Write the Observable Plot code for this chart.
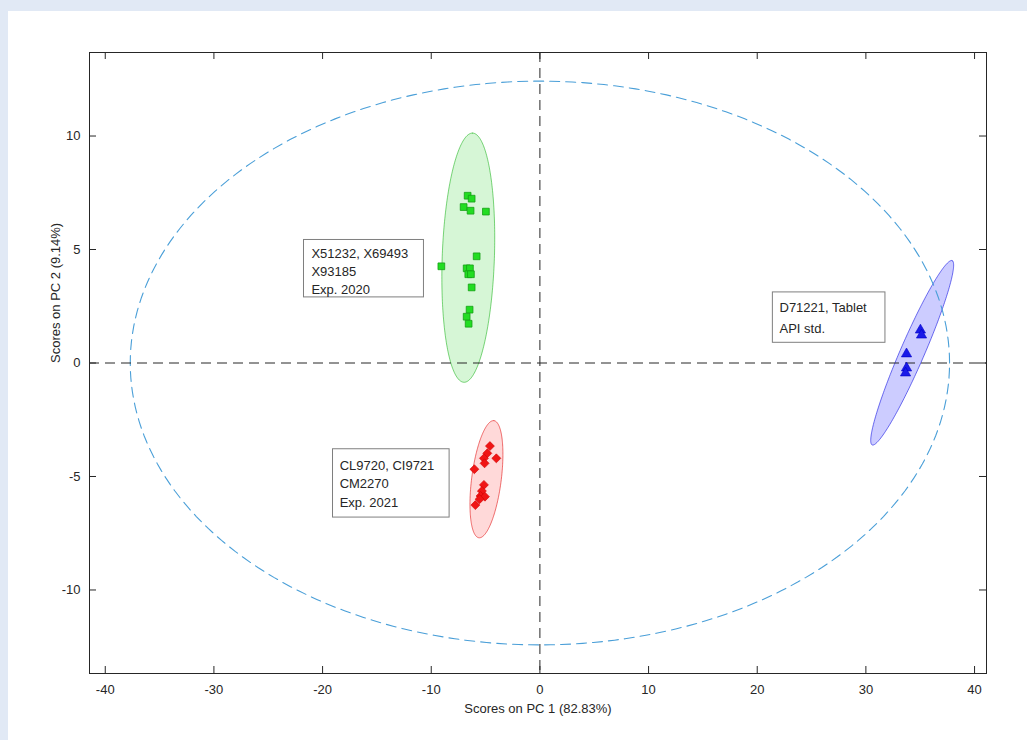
<!DOCTYPE html>
<html><head><meta charset="utf-8">
<script src="https://cdn.jsdelivr.net/npm/d3@7"></script>
<script src="https://cdn.jsdelivr.net/npm/@observablehq/plot@0.6"></script>
<style>
html,body{margin:0;padding:0;background:#e1e9f5;overflow:hidden;}
#panel{position:absolute;left:8px;top:11px;width:1019px;height:729px;background:#fff;}
#panel svg{display:block;}
</style></head><body><div id="panel"></div>
<script>
// ---- axis ticks
const xTicks = [-40, -30, -20, -10, 0, 10, 20, 30, 40];
const yTicks = [-10, -5, 0, 5, 10];
const xLabel = "Scores on PC 1 (82.83%)";
const yLabel = "Scores on PC 2 (9.14%)";

// ---- scores: group X51232, X69493, X93185 (Exp. 2020)
const greenPC1 = [-6.65, -6.28, -7.02, -6.38, -4.97, -5.82, -9.07, -6.74, -6.44, -6.59, -6.35, -6.28, -6.47, -6.74, -6.56];
const greenPC2 = [7.37, 7.24, 6.87, 6.71, 6.67, 4.70, 4.26, 4.17, 4.17, 3.91, 3.91, 3.33, 2.35, 2.04, 1.73];
// ---- group CL9720, CI9721, CM2270 (Exp. 2021)
const redPC1 = [-4.60, -4.84, -5.15, -5.09, -4.01, -6.03, -5.15, -5.34, -5.46, -5.06, -5.55, -5.94];
const redPC2 = [-3.66, -3.98, -4.20, -4.42, -4.20, -4.68, -5.37, -5.64, -5.86, -5.89, -6.00, -6.26];
// ---- group D71221, Tablet, API std.
const bluePC1 = [35.02, 35.12, 33.74, 33.74, 33.65];
const bluePC2 = [1.45, 1.23, 0.40, -0.22, -0.44];

// ---- confidence ellipses: center, major half-axis vector, minor half-axis vector (data units)
const ellGroup  = ["all", "green", "red", "blue"];
const ellCx     = [0.00, -6.59, -4.92, 34.26];
const ellCy     = [0.00,  4.64, -5.12,  0.45];
const ellMajorX = [37.7,  0.40,  0.69,  3.68];
const ellMajorY = [0.00,  5.49,  2.58,  4.06];
const ellMinorX = [0.00,  2.40,  1.35,  1.01];
const ellMinorY = [12.42, -0.04, -0.08, -0.21];

// ---- annotation boxes
const boxX1 = [-21.71, -19.04, 21.44];
const boxX2 = [-10.67, -8.31, 31.80];
const boxY1 = [5.42, -3.80, 3.11];
const boxY2 = [2.89, -6.81, 0.89];
const noteText = ["X51232, X69493", "X93185", "Exp. 2020", "CL9720, CI9721", "CM2270", "Exp. 2021", "D71221, Tablet", "API std."];
const noteX = [-21.03, -21.03, -21.03, -18.43, -18.43, -18.43, 22.05, 22.05];
const noteY = [4.83, 4.02, 3.22, -4.54, -5.33, -6.14, 2.44, 1.51];

// ---- build tables
const pts = (xs, ys) => xs.map((x, i) => ({x, y: ys[i]}));
const green = pts(greenPC1, greenPC2);
const red = pts(redPC1, redPC2);
const blue = pts(bluePC1, bluePC2);
function ellipse(i) {
  const n = 240, out = [];
  for (let k = 0; k <= n; k++) {
    const t = 2 * Math.PI * k / n;
    out.push({
      x: ellCx[i] + ellMajorX[i] * Math.cos(t) + ellMinorX[i] * Math.sin(t),
      y: ellCy[i] + ellMajorY[i] * Math.cos(t) + ellMinorY[i] * Math.sin(t)
    });
  }
  return out;
}
const ell = Object.fromEntries(ellGroup.map((g, i) => [g, ellipse(i)]));
const boxes = boxX1.map((x1, i) => ({x1, x2: boxX2[i], y1: boxY1[i], y2: boxY2[i]}));
const notes = noteText.map((t, i) => ({t, x: noteX[i], y: noteY[i]}));

const W = 1019, H = 729, mL = 81, mR = 41, mT = 41, mB = 67;
const plotW = W - mL - mR, plotH = H - mT - mB;
const axisColor = "#262626";
const tick = 7;
const fmt = d => String(d);

const chart = Plot.plot({
  width: W, height: H,
  marginLeft: mL, marginRight: mR, marginTop: mT, marginBottom: mB,
  style: {fontFamily: "'Liberation Sans', Arial, sans-serif", fontSize: "13px", color: axisColor, background: "transparent"},
  x: {domain: [-41.45, 41.1]},
  y: {domain: [-13.68, 13.68]},
  marks: [
    // confidence ellipses (filled)
    Plot.line(ell.green, {x: "x", y: "y", fill: "#00c800", fillOpacity: 0.16, stroke: "#00aa00", strokeOpacity: 0.5, strokeWidth: 1}),
    Plot.line(ell.red, {x: "x", y: "y", fill: "#ff0000", fillOpacity: 0.15, stroke: "#e00000", strokeOpacity: 0.55, strokeWidth: 1}),
    Plot.line(ell.blue, {x: "x", y: "y", fill: "#0000ff", fillOpacity: 0.2, stroke: "#0000e0", strokeOpacity: 0.55, strokeWidth: 1}),
    // overall 95% ellipse
    Plot.line(ell.all, {x: "x", y: "y", stroke: "#4a9fd8", strokeWidth: 1.1, strokeDasharray: "10,6"}),
    // zero lines
    Plot.ruleX([0], {stroke: axisColor, strokeDasharray: "10,6", strokeWidth: 1}),
    Plot.ruleY([0], {stroke: axisColor, strokeDasharray: "10,6", strokeWidth: 1}),
    // scores
    Plot.dot(green, {x: "x", y: "y", symbol: "square", r: 3.8, fill: "#22dd22", stroke: "#14a014", strokeWidth: 0.8}),
    Plot.dot(red, {x: "x", y: "y", symbol: "diamond2", r: 4.05, fill: "#f01515", stroke: "#d00000", strokeWidth: 0.6}),
    Plot.dot(blue, {x: "x", y: "y", symbol: "triangle", r: 3.8, fill: "#1a1ae8", stroke: "#0000c8", strokeWidth: 0.6}),
    // annotation boxes
    Plot.rect(boxes, {x1: "x1", x2: "x2", y1: "y1", y2: "y2", fill: "white", stroke: "#7f7f7f", strokeWidth: 1}),
    Plot.text(notes, {x: "x", y: "y", text: "t", textAnchor: "start", fill: axisColor, fontSize: 13}),
    // frame and inward ticks
    Plot.frame({stroke: axisColor, strokeWidth: 1}),
    Plot.ruleX(xTicks, {stroke: axisColor, insetTop: plotH - tick}),
    Plot.ruleX(xTicks, {stroke: axisColor, insetBottom: plotH - tick}),
    Plot.ruleY(yTicks, {stroke: axisColor, insetRight: plotW - tick}),
    Plot.ruleY(yTicks, {stroke: axisColor, insetLeft: plotW - tick}),
    // tick labels
    Plot.axisX(xTicks, {anchor: "bottom", tickSize: 0, tickPadding: 11, tickFormat: fmt, label: null, fill: axisColor, fontSize: 13}),
    Plot.axisY(yTicks, {anchor: "left", tickSize: 0, tickPadding: 9, tickFormat: fmt, label: null, fill: axisColor, fontSize: 13}),
    // axis titles
    Plot.text([xLabel], {frameAnchor: "bottom", dy: 35, text: d => d, fill: axisColor, fontSize: 13, lineAnchor: "middle"}),
    Plot.text([yLabel], {frameAnchor: "left", dx: -34, rotate: -90, text: d => d, fill: axisColor, fontSize: 13, lineAnchor: "middle"})
  ]
});
document.getElementById("panel").appendChild(chart);
</script>
</body></html>
